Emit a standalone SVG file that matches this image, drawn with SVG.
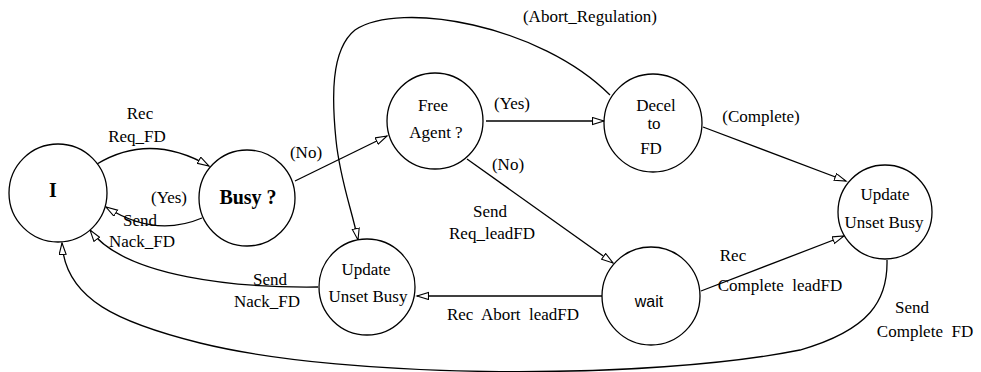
<svg xmlns="http://www.w3.org/2000/svg" width="981" height="372" viewBox="0 0 981 372">
<style>
.node{fill:#fff;stroke:#000;stroke-width:1.3}
.edge{fill:none;stroke:#000;stroke-width:1.3;marker-end:url(#arr)}
text{font-family:"Liberation Serif","Times New Roman",serif;font-size:17px;fill:#000;text-anchor:middle;white-space:pre}
.b{font-weight:bold;font-size:20px}
.s{font-family:"Liberation Sans",Arial,sans-serif;font-size:16px}
</style>
<defs>
<marker id="arr" markerUnits="userSpaceOnUse" markerWidth="14" markerHeight="10" refX="12" refY="4" orient="auto">
<path d="M0.5,0.5 L12,4 L0.5,7.5 z" fill="#fff" stroke="#000" stroke-width="1.1"/>
</marker>
</defs>
<rect width="981" height="372" fill="#fff"/>
<g id="connectors">
<path class="edge" d="M97 164 Q150 132 209 166"/>
<path class="edge" d="M202 218 Q155 238 106 207"/>
<path class="edge" d="M295 181 L387 136"/>
<path class="edge" d="M486 121 L604 121"/>
<path class="edge" d="M467 159 L613 263"/>
<path class="edge" d="M703 127 L846 181"/>
<path class="edge" d="M701 291 L844 236"/>
<path class="edge" d="M602 296 L417 296"/>
<path class="edge" d="M318 287 C240 288 125 278 90 230"/>
<path class="edge" d="M610 95 C540 25 400 0 355 30 C330 50 332 100 336 140 C340 180 352 210 358 240"/>
<path class="edge" d="M887 260 C888 300 870 330 800 350 C650 380 350 380 200 343 C120 323 65 300 62 243"/>
</g>
<g id="n-I"><circle class="node" cx="58" cy="193" r="49"/><text class="b" x="53" y="197">I</text></g>
<g id="n-busy"><circle class="node" cx="247" cy="198" r="48"/><text class="b" x="248" y="204">Busy ?</text></g>
<g id="n-free"><circle class="node" cx="435" cy="121" r="48"/><text x="433" y="111">Free</text><text x="436" y="138">Agent ?</text></g>
<g id="n-decel"><circle class="node" cx="653" cy="123" r="49"/><text x="656" y="111">Decel</text><text x="654" y="129">to</text><text x="651" y="154">FD</text></g>
<g id="n-update-right"><circle class="node" cx="885" cy="212" r="47"/><text x="885" y="200">Update</text><text x="884" y="228">Unset Busy</text></g>
<g id="n-update-left"><circle class="node" cx="367" cy="287" r="48"/><text x="366" y="275">Update</text><text x="368" y="302">Unset Busy</text></g>
<g id="n-wait"><circle class="node" cx="651" cy="296" r="49"/><text class="s" x="649" y="307">wait</text></g>
<g id="labels">
<text x="140" y="119">Rec</text>
<text x="137" y="142">Req_FD</text>
<text x="169" y="203">(Yes)</text>
<text x="140" y="226">Send</text>
<text x="142" y="247">Nack_FD</text>
<text x="306" y="158">(No)</text>
<text x="512" y="109">(Yes)</text>
<text x="508" y="170">(No)</text>
<text x="590" y="22">(Abort_Regulation)</text>
<text x="761" y="122">(Complete)</text>
<text x="490" y="217">Send</text>
<text x="492" y="239">Req_leadFD</text>
<text x="733" y="261">Rec</text>
<text x="780" y="291">Complete  leadFD</text>
<text x="270" y="285">Send</text>
<text x="267" y="307">Nack_FD</text>
<text x="513" y="320">Rec  Abort  leadFD</text>
<text x="912" y="313">Send</text>
<text x="925" y="337">Complete  FD</text>
</g>
</svg>
